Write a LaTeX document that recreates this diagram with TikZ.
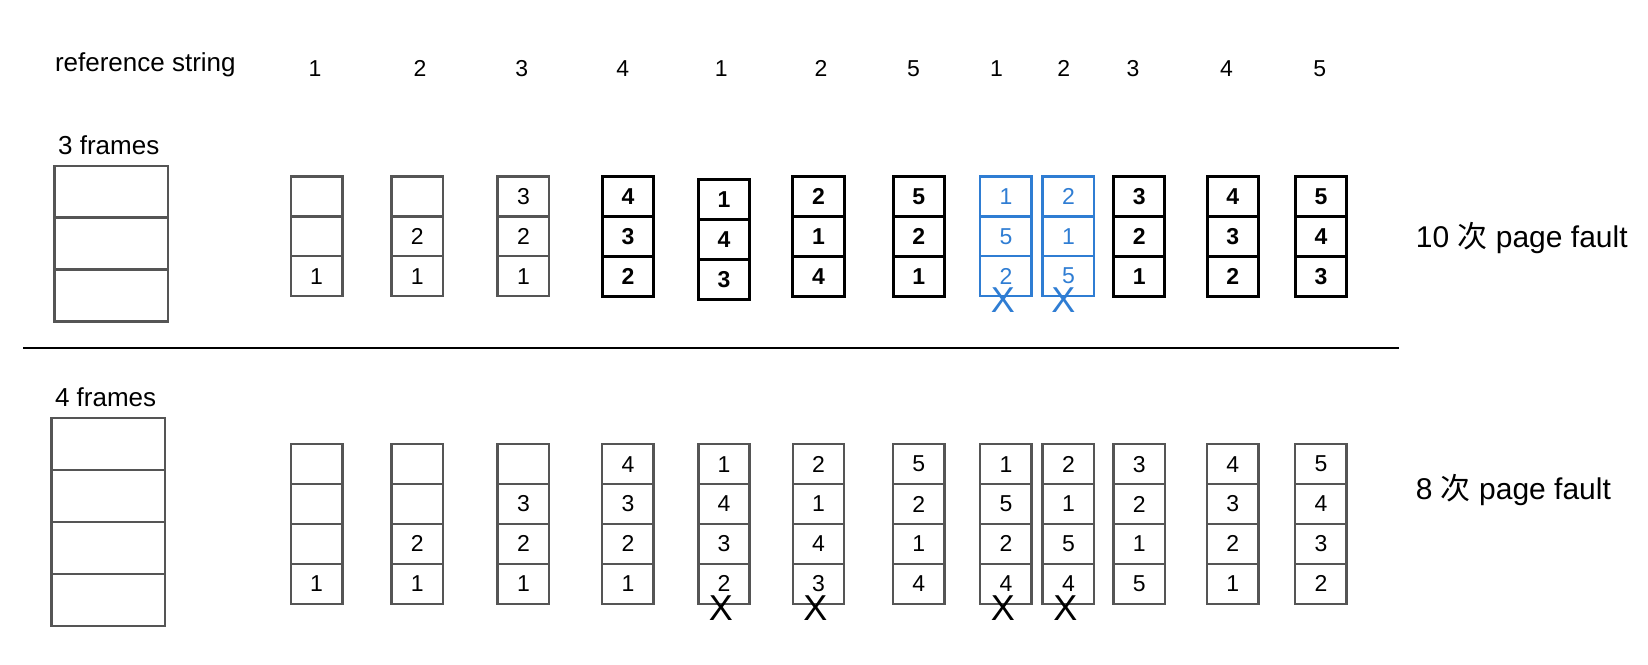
\documentclass[tikz,border=0pt]{standalone}
\usepackage{fontspec}
\setmainfont{Liberation Sans}
\newfontfamily\cjk{Noto Sans CJK SC}
\usetikzlibrary{positioning}
\definecolor{framegray}{HTML}{555555}
\definecolor{hitblue}{HTML}{2F7DD3}

\tikzset{
  cell/.style={draw=framegray, line width=1.25pt, minimum width=25.7pt, minimum height=19.95pt,
    inner sep=0pt, outer sep=0pt, font=\fontsize{11.5}{13}\selectfont},
  plaincell/.style={cell},
  boldcell/.style={cell, draw=black, line width=1.5pt, font=\fontsize{11.5}{13}\selectfont\bfseries},
  bluecell/.style={cell, draw=hitblue, text=hitblue},
  framebox/.style={draw=framegray, line width=1.25pt, minimum width=56.7pt,
    inner sep=0pt, outer sep=0pt},
  leftlabel/.style={font=\fontsize{13}{15}\selectfont, anchor=west, inner sep=0pt},
  faultlabel/.style={font=\fontsize{15}{17}\selectfont, anchor=west, inner sep=0pt},
  cross/.style={font=\fontsize{18}{20}\selectfont, inner sep=0pt},
}

\begin{document}
\begin{tikzpicture}[x=0.525pt, y=-0.525pt]
    \useasboundingbox (0,0) rectangle (1569.5,632.4);

    % Reference string
    \node[leftlabel] (refstr) at (52,62) {reference string};
    \foreach \i/\n/\x in {1/1/300, 2/2/400, 3/3/497, 4/4/593, 5/1/687, 6/2/782,
                          7/5/870, 8/1/949, 9/2/1013, 10/3/1079, 11/4/1168, 12/5/1257}
        \node[font=\fontsize{11.5}{13}\selectfont] (ref\i) at (\x,65) {\n};

    % 3 frames
    \node[leftlabel] (lbl3) at (55,138) {3 frames};
    \node[framebox, minimum height=25.9pt, anchor=north west] (f3-1) at (52,158) {};
    \node[framebox, minimum height=25.9pt, below=0pt of f3-1] (f3-2) {};
    \node[framebox, minimum height=25.9pt, below=0pt of f3-2] (f3-3) {};

    \foreach \c/\x/\y/\a/\b/\d/\sty in {
        1/301.5/168/{}/{}/1/plaincell, 2/397.5/168/{}/2/1/plaincell, 3/498.5/168/3/2/1/plaincell,
        4/598/168/4/3/2/boldcell, 5/689.5/171/1/4/3/boldcell, 6/779.5/168/2/1/4/boldcell,
        7/875/168/5/2/1/boldcell, 8/958/168/1/5/2/bluecell, 9/1017.5/168/2/1/5/bluecell,
        10/1085/168/3/2/1/boldcell, 11/1174/168/4/3/2/boldcell, 12/1258/168/5/4/3/boldcell}
    {
        \node[\sty, anchor=north] (t\c-1) at (\x,\y) {\a};
        \node[\sty, below=0pt of t\c-1] (t\c-2) {\b};
        \node[\sty, below=0pt of t\c-2] (t\c-3) {\d};
    }

    % Misses marked in the 3-frame row
    \node[cross, text=hitblue] (tx8) at ([xshift=-1.5pt, yshift=-2pt]t8-3.south) {X};
    \node[cross, text=hitblue] (tx9) at ([xshift=-2.5pt, yshift=-2pt]t9-3.south) {X};

    \node[faultlabel] (fault3) at (1348,227) {10 {\cjk 次} page fault};

    % Separator
    \coordinate (ruleL) at (22,331);
    \coordinate (ruleR) at (1332,331);
    \draw[line width=1pt] (ruleL) -- (ruleR);

    % 4 frames
    \node[leftlabel] (lbl4) at (52,378) {4 frames};
    \node[framebox, minimum height=26pt, anchor=north west] (f4-1) at (49,398) {};
    \node[framebox, minimum height=26pt, below=0pt of f4-1] (f4-2) {};
    \node[framebox, minimum height=26pt, below=0pt of f4-2] (f4-3) {};
    \node[framebox, minimum height=26pt, below=0pt of f4-3] (f4-4) {};

    \foreach \c/\x/\a/\b/\d/\e in {
        1/301.5/{}/{}/{}/1, 2/397.5/{}/{}/2/1, 3/498.5/{}/3/2/1, 4/598/4/3/2/1,
        5/689.5/1/4/3/2, 6/779.5/2/1/4/3, 7/875/5/2/1/4, 8/958/1/5/2/4,
        9/1017.5/2/1/5/4, 10/1085/3/2/1/5, 11/1174/4/3/2/1, 12/1258/5/4/3/2}
    {
        \node[plaincell, anchor=north] (b\c-1) at (\x,423) {\a};
        \node[plaincell, below=0pt of b\c-1] (b\c-2) {\b};
        \node[plaincell, below=0pt of b\c-2] (b\c-3) {\d};
        \node[plaincell, below=0pt of b\c-3] (b\c-4) {\e};
    }

    % Misses marked in the 4-frame row
    \foreach \c in {5,6,8,9}
        \node[cross] (bx\c) at ([xshift=-1.5pt, yshift=-2pt]b\c-4.south) {X};

    \node[faultlabel] (fault4) at (1348,467) {8 {\cjk 次} page fault};
\end{tikzpicture}
\end{document}
